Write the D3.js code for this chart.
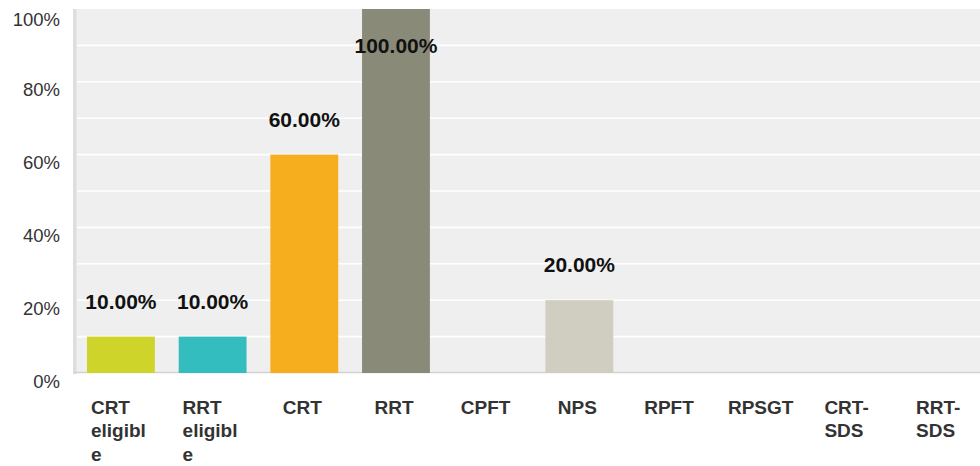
<!DOCTYPE html>
<html>
<head>
<meta charset="utf-8">
<script src="https://cdn.jsdelivr.net/npm/d3@7"></script>
<style>
  html, body { margin: 0; padding: 0; background: #fff; }
  svg { display: block; font-family: "Liberation Sans", Arial, Helvetica, sans-serif; }
</style>
</head>
<body>
<svg id="chart" width="980" height="466"></svg>
<script>
const categories = ["CRT eligible", "RRT eligible", "CRT", "RRT", "CPFT", "NPS", "RPFT", "RPSGT", "CRT-SDS", "RRT-SDS"];
const categoryLabelLines = [["CRT", "eligibl", "e"], ["RRT", "eligibl", "e"], ["CRT"], ["RRT"], ["CPFT"], ["NPS"], ["RPFT"], ["RPSGT"], ["CRT-", "SDS"], ["RRT-", "SDS"]];
const values = [10, 10, 60, 100, 0, 20, 0, 0, 0, 0];
const barColors = ["#cfd42a", "#33bdbf", "#f6ae1f", "#8a8a78", "#9fc3c6", "#d0cec0", "#e2c07a", "#b6b6a8", "#a8c8a0", "#c9c9c9"];
const yTicks = [0, 20, 40, 60, 80, 100];
const yGrid = [10, 20, 30, 40, 50, 60, 70, 80, 90];

const W = 980, H = 466;
const plotLeft = 76, plotTop = 9, plotBottom = 373;
const svg = d3.select("#chart");

const y = d3.scaleLinear().domain([0, 100]).range([plotBottom, plotTop]);
const x = d3.scaleBand().domain(categories).range([75, 992]).paddingInner(0.26).paddingOuter(0.131);

// plot background
svg.append("rect").attr("x", plotLeft).attr("y", plotTop)
  .attr("width", W - plotLeft).attr("height", plotBottom - plotTop).attr("fill", "#efefef");
// left border
svg.append("rect").attr("x", 73).attr("y", plotTop).attr("width", 3.5)
  .attr("height", plotBottom - plotTop + 1).attr("fill", "#dedede");

// gridlines
svg.append("g").selectAll("line").data(yGrid).join("line")
  .attr("x1", plotLeft + 1).attr("x2", W)
  .attr("y1", d => y(d)).attr("y2", d => y(d))
  .attr("stroke", "#ffffff").attr("stroke-width", 1.6);

// bottom axis line
svg.append("line").attr("x1", 74).attr("x2", W)
  .attr("y1", plotBottom - 0.5).attr("y2", plotBottom - 0.5)
  .attr("stroke", "#d2d2d2").attr("stroke-width", 1.5);

// y tick labels
svg.append("g").selectAll("text").data(yTicks).join("text")
  .attr("x", 60).attr("y", d => Math.max(y(d) + 14.5, 26))
  .attr("text-anchor", "end").attr("font-size", "18.5px").attr("fill", "#333")
  .text(d => d + "%");

// bars
svg.append("g").selectAll("rect").data(categories).join("rect")
  .attr("x", d => x(d)).attr("width", x.bandwidth())
  .attr("y", (d, i) => y(values[i]))
  .attr("height", (d, i) => y(0) - y(values[i]))
  .attr("fill", (d, i) => barColors[i]);

// value labels
svg.append("g").selectAll("text").data(categories.filter((d, i) => values[i] > 0)).join("text")
  .attr("x", d => x(d) + x.bandwidth() / 2)
  .attr("y", d => Math.max(y(values[categories.indexOf(d)]) - 28, 53))
  .attr("text-anchor", "middle").attr("font-size", "21px").attr("font-weight", "bold")
  .attr("fill", "#111")
  .text(d => values[categories.indexOf(d)].toFixed(2) + "%");

// x category labels
const xl = svg.append("g").selectAll("text").data(categories).join("text")
  .attr("font-size", "19px").attr("font-weight", "bold").attr("fill", "#333")
  .each(function(d, i) {
    const lines = categoryLabelLines[i];
    const cx = x(d) + x.bandwidth() / 2;
    const t = d3.select(this);
    if (lines.length > 1) {
      t.attr("text-anchor", "start");
      lines.forEach((ln, k) => {
        t.append("tspan").attr("x", cx - 30).attr("y", 414 + k * 23.3).text(ln);
      });
    } else {
      t.attr("text-anchor", "middle").attr("x", cx - 2).attr("y", 414).text(lines[0]);
    }
  });
</script>
</body>
</html>
